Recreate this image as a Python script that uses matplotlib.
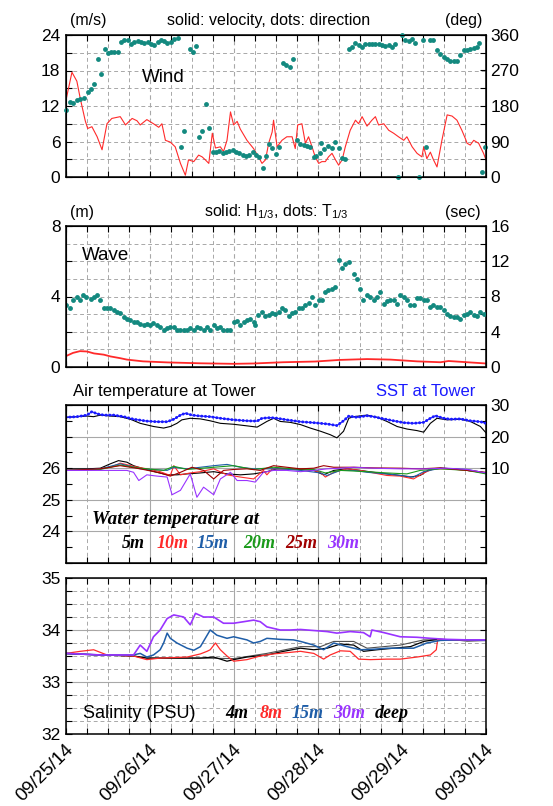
import matplotlib
matplotlib.use("Agg")
import matplotlib.pyplot as plt
from matplotlib.ticker import MultipleLocator, FuncFormatter
from matplotlib.transforms import ScaledTranslation

plt.rcParams['font.family'] = ['Liberation Sans', 'DejaVu Sans']
plt.rcParams['mathtext.fontset'] = 'custom'
plt.rcParams['mathtext.rm'] = 'Liberation Sans'
plt.rcParams['mathtext.default'] = 'regular'

# time is in hours from 09/25/14 00:00
day_labels = ["09/25/14", "09/26/14", "09/27/14", "09/28/14", "09/29/14", "09/30/14"]

# --- wind speed (m/s) ---
wind_spd_hours = [
    0, 1.7, 3.1, 4.1, 5.5, 6.2, 7.4, 8.9, 10.3, 11.7,
    13.1, 15.5, 17.0, 18.9, 20.3, 21.2, 23.1, 25.0, 26.5, 27.4,
    28.4, 29.8, 31.2, 32.7, 34.1, 35.0, 36.5, 37.9, 38.9, 39.8,
    40.8, 41.8, 42.7, 44.1, 45.0, 46.0, 47.0, 47.9, 48.9, 49.8,
    51.7, 53.6, 55.0, 56.0, 57.0, 57.9, 58.9, 59.3, 60.3, 61.7,
    63.1, 64.6, 65.5, 66.2, 67.4, 68.4, 69.3, 70.3, 71.2, 72.2,
    73.1, 74.1, 75.0, 76.0, 77.0, 77.9, 78.9, 79.8, 81.2, 82.7,
    83.6, 84.6, 86.0, 87.4, 88.4, 89.3, 90.8, 92.2, 93.6, 95.0,
    96.5, 97.4, 98.9, 100.3, 101.7, 102.2, 103.1, 104.1, 105.0, 106.0,
    107.4, 108.9, 110.3, 111.7, 113.1, 114.1, 114.6, 115.5, 116.5, 117.9,
    119.3, 120]
wind_spd = [
    13.0, 17.7, 16.2, 13.2, 9.5, 8.2, 8.5, 6.8, 4.6, 9.0,
    9.9, 10.2, 8.8, 9.9, 9.5, 8.8, 9.7, 9.0, 8.4, 9.0,
    6.2, 5.9, 5.1, 2.3, 0.3, 2.9, 2.6, 3.7, 3.4, 2.9,
    2.3, 7.4, 4.9, 5.1, 4.3, 6.2, 11.0, 8.8, 9.4, 8.1,
    6.2, 4.8, 3.4, 2.3, 2.9, 5.7, 7.6, 9.6, 5.1, 6.2,
    6.8, 6.8, 4.8, 8.8, 9.0, 5.7, 6.8, 5.1, 3.4, 2.3,
    2.6, 2.6, 3.4, 4.0, 2.9, 2.0, 2.9, 5.1, 7.9, 9.6,
    9.0, 10.2, 8.6, 9.6, 10.2, 8.8, 9.0, 7.9, 7.4, 6.8,
    6.2, 6.8, 5.1, 4.0, 3.4, 5.1, 3.1, 4.2, 2.9, 1.7,
    6.2, 10.5, 10.3, 9.6, 7.9, 6.5, 5.7, 5.4, 6.2, 5.7,
    4.0, 2.9]

# --- wind direction (deg) ---
wind_dir_hours = [
    0.0, 1.0, 2.0, 3.0, 4.1, 5.0, 6.2, 7.1, 8.1, 9.0,
    10.0, 11.0, 11.9, 12.9, 13.8, 14.8, 15.7, 16.7, 17.6, 18.6,
    19.5, 20.5, 21.4, 22.4, 23.3, 24.3, 25.2, 26.2, 27.1, 28.1,
    29.0, 30.0, 31.0, 31.9, 32.9, 33.8, 35.3, 36.3, 37.2, 38.1,
    39.0, 40.0, 41.0, 41.9, 42.9, 43.8, 44.8, 45.7, 46.7, 47.6,
    48.6, 49.5, 50.5, 51.4, 52.4, 53.3, 54.3, 55.2, 56.2, 57.1,
    58.1, 59.0, 60.0, 61.0, 62.0, 63.0, 63.9, 64.9, 66.0, 67.0,
    67.9, 68.9, 69.8, 70.8, 71.5, 72.5, 73.0, 73.8, 75.0, 76.0,
    77.0, 77.9, 78.9, 79.8, 80.8, 81.7, 82.7, 83.6, 84.6, 85.5,
    86.5, 87.4, 88.4, 89.3, 90.3, 91.2, 92.2, 93.1, 94.1, 95.0,
    96.0, 97.0, 97.9, 98.9, 99.8, 100.8, 102.0, 103.0, 103.9, 104.9,
    106.0, 107.0, 107.9, 108.9, 109.8, 110.8, 111.7, 112.7, 113.6, 114.6,
    115.5, 116.5, 117.4, 118.1, 118.9, 119.8]
wind_dir = [
    169, 190, 188, 195, 199, 201, 216, 222, 236, 298,
    260, 324, 314, 316, 317, 318, 342, 347, 348, 338,
    342, 345, 342, 340, 342, 338, 334, 342, 348, 345,
    340, 342, 351, 353, 77, 116, 325, 317, 331, 102,
    116, 186, 123, 64, 64, 66, 62, 64, 67, 68,
    64, 61, 57, 52, 56, 63, 56, 50, 24, 52,
    83, 73, 58, 77, 289, 283, 279, 298, 95, 83,
    81, 79, 75, 50, 52, 62, 87, 70, 79, 73,
    89, 73, 47, 45, 325, 330, 340, 335, 330, 337,
    338, 337, 338, 337, 335, 332, 335, 330, 336, 0,
    360, 348, 346, 350, 340, 0, 348, 75, 348, 348,
    323, 311, 303, 298, 295, 293, 293, 309, 323, 323,
    325, 327, 330, 340, 13, 77]

# --- significant wave height (m) ---
wave_h_hours = [0, 2, 4, 6, 8, 10.8, 12.7, 15.5, 17.4, 22, 29, 38.4, 47.9,
                53.6, 62, 71.2, 78, 86, 92.7, 100.3, 107, 109.3, 114.6, 120]
wave_h = [0.62, 0.8, 0.9, 0.88, 0.77, 0.7, 0.6, 0.5, 0.42, 0.32, 0.26, 0.21, 0.18,
          0.2, 0.27, 0.31, 0.4, 0.45, 0.42, 0.32, 0.27, 0.34, 0.27, 0.2]

# --- significant wave period (sec) ---
wave_t_hours = [
    0.0, 1.0, 2.0, 3.0, 3.9, 4.9, 5.8, 7.0, 7.9, 8.9,
    9.8, 10.8, 11.7, 12.7, 13.6, 14.6, 15.5, 16.5, 17.4, 18.4,
    19.3, 20.3, 21.2, 22.2, 23.1, 24.1, 25.0, 26.0, 27.0, 27.9,
    28.9, 29.8, 30.8, 31.7, 32.7, 33.6, 34.6, 35.5, 36.5, 37.4,
    38.4, 39.3, 40.3, 41.2, 42.2, 43.1, 44.1, 45.0, 46.0, 47.0,
    47.9, 48.9, 49.8, 50.8, 51.7, 52.7, 53.6, 54.1, 55.0, 56.0,
    57.0, 57.9, 58.9, 59.8, 60.8, 61.7, 62.7, 63.6, 64.6, 65.5,
    66.5, 67.4, 68.4, 69.3, 70.3, 71.2, 72.2, 73.1, 74.1, 75.0,
    76.0, 77.0, 77.9, 78.9, 79.8, 80.8, 82.2, 83.1, 84.1, 85.0,
    86.0, 87.0, 87.9, 88.9, 89.8, 90.8, 91.7, 92.7, 93.6, 94.6,
    95.5, 96.5, 97.4, 98.4, 99.3, 100.3, 101.2, 102.2, 103.1, 104.1,
    105.0, 106.0, 107.0, 107.9, 108.9, 109.8, 110.8, 111.7, 112.7, 113.6,
    114.6, 115.5, 116.5, 117.4, 118.4, 119.3]
wave_t = [
    7.0, 6.75, 7.6, 8.0, 7.6, 8.15, 8.0, 7.7, 7.9, 8.15,
    7.6, 6.75, 6.75, 6.65, 6.5, 6.25, 6.1, 5.7, 5.5, 5.3,
    5.1, 5.05, 4.9, 4.75, 4.9, 4.75, 5.0, 4.75, 4.55, 4.2,
    4.4, 4.55, 4.55, 4.25, 4.2, 4.25, 4.2, 4.4, 4.25, 4.5,
    4.4, 4.2, 4.55, 4.25, 4.75, 4.4, 4.5, 4.2, 4.25, 4.2,
    5.1, 5.25, 4.75, 5.1, 5.3, 5.5, 5.1, 4.75, 5.9, 6.25,
    5.8, 5.9, 6.1, 6.0, 6.25, 6.75, 6.45, 5.8, 6.15, 6.25,
    6.65, 6.75, 7.0, 7.3, 8.0, 7.0, 7.6, 7.6, 8.5, 8.7,
    8.9, 9.1, 12.1, 11.2, 11.65, 11.9, 10.6, 10.0, 8.9, 7.6,
    8.15, 8.0, 7.6, 7.9, 8.5, 7.2, 7.5, 7.6, 7.65, 7.2,
    8.15, 7.9, 7.6, 7.0, 7.0, 7.8, 7.8, 7.65, 7.6, 6.8,
    7.0, 6.8, 6.8, 6.45, 6.0, 5.8, 5.7, 5.7, 5.5, 5.9,
    6.0, 6.25, 5.9, 5.8, 6.25, 6.0]

# --- SST and air temperature at tower (deg C, right axis) ---
sst_hours = [0, 3.1, 6, 7.4, 8.9, 10.8, 13.6, 16.5, 19.3, 23.1, 26, 28.9, 30.8,
             32.7, 34.1, 36, 38.4, 41.2, 44.1, 47.9, 51.7, 54.6, 56, 58.4, 60.3,
             63.1, 67, 70.8, 74.6, 77.4, 79.3, 80.8, 83.1, 86, 87.9, 90.8, 93.6,
             96.5, 99.3, 102.2, 104.1, 105.5, 107.9, 109.8, 112.7, 115.5, 118.4, 120]
sst = [26.1, 26.3, 26.8, 27.9, 27.2, 26.8, 26.8, 26.3, 25.5, 24.9, 24.7, 24.7, 25.5,
       26.8, 27.4, 26.8, 26.5, 26.3, 25.8, 25.3, 25.0, 24.9, 25.8, 26.0, 25.8,
       25.3, 24.7, 24.4, 24.0, 23.5, 25.0, 26.5, 26.1, 26.6, 26.3, 25.6, 25.0,
       24.4, 24.2, 24.5, 25.8, 26.6, 25.8, 25.5, 25.6, 25.0, 24.7, 24.2]
air_hours = [0, 6, 7.9, 9.8, 12.7, 15.5, 18.4, 21.2, 25, 27.9, 29.8, 31.7, 33.1,
             35.5, 38.4, 41.2, 44.1, 47.9, 51.7, 54.6, 57.4, 59.3, 61.2, 64.1, 67,
             69.8, 72.7, 75.5, 77.4, 79.3, 80.8, 82.2, 86, 88.9, 91.7, 94.6, 97.4,
             100.3, 102.2, 104.1, 106, 108.9, 112.7, 115.5, 118.4, 120]
air = [26.1, 26.5, 26.3, 26.8, 26.5, 26.3, 25.5, 24.2, 23.2, 22.7, 23.2, 24.2, 25.3,
       25.8, 25.6, 25.0, 24.2, 23.9, 23.4, 23.0, 24.8, 25.8, 24.8, 24.5, 23.8,
       22.7, 21.7, 20.6, 19.6, 21.7, 25.8, 26.3, 26.8, 26.1, 24.8, 23.2, 22.4,
       21.9, 21.4, 24.2, 25.8, 25.3, 25.5, 24.8, 23.2, 21.2]

# --- water temperature (deg C, left axis) ---
wt5_hours = [0, 6, 9.8, 12.7, 15.0, 17.4, 19.3, 22.2, 26, 28.9, 31.7, 34.6, 38.4,
             42.2, 46, 49.8, 53.6, 57.4, 60.3, 63.1, 67, 70.8, 73.6, 76.5, 80.3,
             84.1, 87.9, 91.7, 95.5, 98.4, 101.2, 104.1, 107, 110.8, 114.6, 120]
wt5 = [25.98, 25.98, 26.0, 26.14, 26.24, 26.19, 26.08, 25.98, 25.87, 25.79, 25.79,
       25.82, 25.85, 25.89, 25.82, 25.79, 25.82, 25.89, 25.98, 25.98, 25.96, 25.93,
       25.79, 25.93, 25.98, 25.93, 25.87, 25.82, 25.77, 25.72, 25.77, 25.98, 26.0,
       25.98, 25.93, 25.85]
wt10_hours = [0, 6, 12.7, 15.5, 19.3, 23.1, 26.9, 29.8, 30.8, 32.7, 35.5, 38.4, 42.2,
              46, 49.8, 53.6, 56.4, 57.4, 58.9, 62.2, 65, 68.9, 72.7, 74.1, 76.5,
              80.3, 84.1, 87.9, 91.7, 95.5, 99.3, 102.2, 105, 109, 114.6, 120]
wt10 = [25.93, 25.93, 26.03, 26.16, 26.06, 25.98, 25.89, 25.77, 26.08, 25.79, 25.85,
        25.89, 25.98, 25.79, 25.72, 25.66, 25.93, 25.79, 25.98, 25.98, 25.98, 25.98,
        25.87, 25.72, 25.87, 25.98, 25.93, 25.85, 25.77, 25.75, 25.66, 25.85, 25.98,
        25.98, 25.93, 25.85]
wt15_hours = [0, 9.8, 15.5, 21.2, 28.9, 30.8, 34.6, 42.2, 46, 49.8, 53.6, 57.4, 61.2,
              67, 72.7, 74.6, 78.4, 82.2, 86, 91.7, 95.5, 99.3, 102.2, 107, 114.6, 120]
wt15 = [25.93, 25.98, 26.14, 25.98, 25.93, 26.03, 25.98, 26.08, 26.12, 26.03, 25.98,
        25.98, 25.98, 25.93, 25.85, 25.77, 25.93, 25.93, 25.87, 25.82, 25.77, 25.72,
        25.89, 26.0, 25.96, 25.85]
wt20_hours = [0, 9.8, 15.5, 21.2, 27.9, 30.8, 34.6, 42.2, 47.9, 53.6, 59.3, 65, 70.8,
              74.1, 78.4, 86, 91.7, 97.4, 101.2, 107, 114.6, 120]
wt20 = [25.93, 25.96, 26.1, 26.0, 25.93, 26.06, 25.96, 26.03, 26.08, 25.96, 26.03,
        25.98, 25.96, 25.85, 25.93, 25.89, 25.85, 25.82, 25.93, 25.98, 25.93, 25.82]
wt25_hours = [0, 9.8, 15.5, 21.2, 26.9, 29.8, 32.7, 36, 39.3, 42.2, 45, 47.9, 51.7,
              55.5, 59.3, 63.1, 67, 70.8, 73.6, 76.5, 82.2, 87.9, 95.5, 101.2, 107,
              114.6, 120]
wt25 = [25.93, 25.98, 26.08, 25.98, 25.85, 25.75, 25.87, 26.03, 25.93, 25.66, 25.93,
        25.96, 25.98, 25.93, 26.08, 26.03, 25.98, 26.0, 26.08, 26.03, 26.03, 26.01,
        26.0, 25.98, 26.01, 25.93, 25.87]
wt30_hours = [0, 17.4, 19.3, 20.8, 23.1, 26, 28.9, 30.3, 32.7, 35.5, 37.4, 39.3, 42.2,
              44.1, 47, 48.9, 51.7, 54.1, 56.4, 59.3, 63.1, 67, 70.8, 74.6, 78.4, 82.2,
              87.9, 95.5, 103.1, 108.9, 114.6, 120]
wt30 = [25.93, 25.93, 25.87, 25.61, 25.79, 25.75, 25.72, 25.16, 25.3, 25.82, 25.08,
        25.4, 25.16, 25.66, 25.87, 25.61, 25.61, 25.56, 25.87, 25.93, 25.93, 25.89,
        25.93, 25.98, 26.0, 26.03, 26.0, 25.98, 25.98, 26.0, 25.96, 25.85]

# --- salinity (PSU) ---
s4_hours = [0, 9.8, 19.3, 23.1, 28.9, 38.4, 42.2, 46, 47.9, 51.7, 57.4, 62.2, 67,
            70.8, 74.6, 78.4, 82.2, 85, 88.9, 93.6, 98.4, 102.2, 106, 110.8, 114.6, 120]
s4 = [33.55, 33.52, 33.50, 33.46, 33.46, 33.46, 33.48, 33.40, 33.43, 33.48, 33.52,
      33.59, 33.65, 33.62, 33.65, 33.73, 33.71, 33.59, 33.62, 33.65, 33.68, 33.78,
      33.82, 33.81, 33.79, 33.80]
s8_hours = [0, 4.1, 7.9, 11.7, 19.3, 23.1, 26.9, 34.6, 38.4, 40.3, 41.2, 42.7, 44.1,
            46, 47.9, 51.7, 55.5, 59.3, 64.1, 67, 70.8, 73.6, 75.5, 78.4, 81.2, 83.6,
            87, 91.7, 95.5, 100.3, 104.1, 105.8, 106.2, 110.8, 114.6, 120]
s8 = [33.55, 33.59, 33.62, 33.52, 33.50, 33.43, 33.46, 33.48, 33.54, 33.59, 33.62,
      33.75, 33.62, 33.50, 33.40, 33.43, 33.50, 33.54, 33.57, 33.59, 33.55, 33.44,
      33.52, 33.60, 33.59, 33.44, 33.43, 33.44, 33.44, 33.48, 33.52, 33.62, 33.82,
      33.81, 33.80, 33.80]
s15_hours = [0, 9.8, 19.3, 21.2, 23.1, 25, 26.9, 27.9, 28.9, 29.8, 31.7, 34.6, 36.5,
             38.4, 41.2, 43.1, 46, 47.9, 51.7, 53.6, 55.5, 57.4, 61.2, 65, 67, 70.8,
             73.6, 76.5, 80.3, 84.1, 88, 91.7, 95.5, 99.3, 103.1, 107, 112.7, 120]
s15 = [33.55, 33.52, 33.52, 33.55, 33.48, 33.52, 33.62, 33.75, 33.94, 33.84, 33.75,
       33.65, 33.61, 33.68, 34.0, 33.90, 33.84, 33.87, 33.81, 33.75, 33.78, 33.84,
       33.82, 33.81, 33.78, 33.71, 33.62, 33.75, 33.68, 33.62, 33.63, 33.65, 33.65,
       33.65, 33.75, 33.80, 33.81, 33.80]
s30_hours = [0, 9.8, 19.3, 21.2, 23.1, 25, 26.9, 28.9, 30.8, 33.6, 35.5, 37, 39.3,
             42.2, 45, 47.9, 50.8, 53.6, 55.5, 57.4, 61.2, 64.1, 67, 70.8, 74.6, 77.4,
             81.2, 85, 86.9, 87.4, 90.8, 95.5, 100.3, 104.1, 108.9, 114.6, 120]
s30 = [33.55, 33.52, 33.52, 33.71, 33.59, 33.87, 34.0, 34.22, 34.29, 34.25, 34.10,
       34.32, 34.25, 34.25, 34.13, 34.13, 34.16, 34.19, 34.16, 34.06, 34.0, 34.0,
       34.01, 33.99, 33.97, 33.94, 33.97, 33.95, 33.87, 34.0, 33.95, 33.87, 33.86,
       33.84, 33.82, 33.81, 33.81]
sdeep_hours = [0, 19.3, 23.1, 38.4, 47.9, 57.4, 67, 72.7, 76.5, 82.2, 86, 95.5, 102.2, 120]
sdeep = [33.54, 33.50, 33.46, 33.46, 33.45, 33.55, 33.68, 33.68, 33.78, 33.78, 33.65,
         33.71, 33.81, 33.81]

# colours
TEAL = "#13897f"
RED = "#ff2a2a"
BLUE = "#1a1aff"
C15 = "#1f5ea8"
C20 = "#1a9a1a"
C25 = "#a00000"
C30 = "#9933ff"
GRID_C = "#a8a8a8"
DASH = (0, (4, 3))
TICK_FS = 12.5

FW, FH = 553.0, 806.0
fig = plt.figure(figsize=(5.53, 8.06), dpi=100)


def panel(top, bottom):
    return fig.add_axes([66 / FW, 1 - bottom / FH, 420 / FW, (bottom - top) / FH])


def px(x, y):
    return x / FW, 1 - y / FH


def time_axis(ax, solid_days):
    ax.set_xlim(0, 120)
    ax.xaxis.set_major_locator(MultipleLocator(24))
    ax.xaxis.set_minor_locator(MultipleLocator(6))
    ax.tick_params(which="both", direction="in", length=4, width=0.8,
                   top=True, right=False, labelsize=TICK_FS, pad=4)
    ax.tick_params(axis="x", labelbottom=False)
    ax.grid(which="minor", axis="x", color=GRID_C, lw=0.7, ls=DASH)
    ax.grid(which="major", axis="x", color=GRID_C, lw=0.8,
            ls="-" if solid_days else DASH)
    for s in ax.spines.values():
        s.set_linewidth(1.1)


def right_axis(ax):
    axr = ax.twinx()
    axr.tick_params(which="both", direction="in", length=4, width=0.8,
                    labelsize=TICK_FS, pad=3)
    return axr


# ---------------- Wind ----------------
ax1 = panel(35, 177)
time_axis(ax1, False)
ax1.set_ylim(0, 24)
ax1.yaxis.set_major_locator(MultipleLocator(6))
ax1.yaxis.set_minor_locator(MultipleLocator(3))
ax1.grid(which="both", axis="y", color=GRID_C, lw=0.7, ls=DASH)
ax1.plot(wind_spd_hours, wind_spd, color=RED, lw=0.8)
ax1r = right_axis(ax1)
ax1r.set_ylim(0, 360)
ax1r.yaxis.set_major_locator(MultipleLocator(90))
ax1r.yaxis.set_minor_locator(MultipleLocator(45))
ax1r.plot(wind_dir_hours, wind_dir, "o", color=TEAL, ms=3.5, mec="none", clip_on=False)
fig.text(*px(142, 77), "Wind", fontsize=13.5, va="center")
fig.text(*px(88, 20), "(m/s)", fontsize=11.5, ha="center", va="center")
fig.text(*px(269, 20), "solid: velocity, dots: direction", fontsize=11.5, ha="center", va="center")
fig.text(*px(464, 20), "(deg)", fontsize=11.5, ha="center", va="center")

# ---------------- Wave ----------------
ax2 = panel(226, 367)
time_axis(ax2, False)
ax2.set_ylim(0, 8)
ax2.yaxis.set_major_locator(MultipleLocator(2))
ax2.yaxis.set_major_formatter(FuncFormatter(lambda v, p: f"{v:.0f}" if v % 4 == 0 else ""))
ax2.yaxis.set_minor_locator(MultipleLocator(1))
ax2.tick_params(axis="y", which="minor", length=0)
ax2.grid(which="both", axis="y", color=GRID_C, lw=0.7, ls=DASH)
ax2.plot(wave_h_hours, wave_h, color=RED, lw=1.3)
ax2r = right_axis(ax2)
ax2r.set_ylim(0, 16)
ax2r.yaxis.set_major_locator(MultipleLocator(4))
ax2r.yaxis.set_minor_locator(MultipleLocator(2))
ax2r.plot(wave_t_hours, wave_t, "o", color=TEAL, ms=3.5, mec="none")
fig.text(*px(82, 255), "Wave", fontsize=13.5, va="center")
fig.text(*px(82, 212), "(m)", fontsize=11.5, ha="center", va="center")
fig.text(*px(276, 212), "solid: H$_{1/3}$, dots: T$_{1/3}$", fontsize=11.5, ha="center", va="center")
fig.text(*px(463, 212), "(sec)", fontsize=11.5, ha="center", va="center")

# ---------------- Temperature ----------------
ax3 = panel(405, 563)
time_axis(ax3, True)
ax3.set_ylim(23, 28)
ax3.yaxis.set_major_locator(MultipleLocator(1))
ax3.yaxis.set_major_formatter(FuncFormatter(lambda v, p: f"{v:.0f}" if 23.5 < v < 26.5 else ""))
ax3.yaxis.set_minor_locator(MultipleLocator(0.5))
ax3.grid(which="major", axis="y", color=GRID_C, lw=0.8, ls="-")
for hrs, vals, col in [(wt5_hours, wt5, "black"), (wt10_hours, wt10, RED),
                       (wt15_hours, wt15, C15), (wt20_hours, wt20, C20),
                       (wt25_hours, wt25, C25), (wt30_hours, wt30, C30)]:
    ax3.plot(hrs, vals, color=col, lw=0.8)
ax3r = right_axis(ax3)
ax3r.set_ylim(-20, 30)
ax3r.yaxis.set_major_locator(MultipleLocator(10))
ax3r.yaxis.set_major_formatter(FuncFormatter(lambda v, p: f"{v:.0f}" if v >= 10 else ""))
ax3r.yaxis.set_minor_locator(MultipleLocator(5))
ax3r.plot(air_hours, air, color="black", lw=0.8)
ax3r.plot(sst_hours, sst, color=BLUE, lw=0.8)
ax3r.plot(sst_hours, sst, color=BLUE, lw=2.1, ls=(0, (0.1, 1.2)), dash_capstyle="round")
fig.text(*px(73, 391), "Air temperature at Tower", fontsize=12, va="center")
fig.text(*px(475, 391), "SST at Tower", fontsize=12, color=BLUE, ha="right", va="center")
SERIF = dict(family=["Liberation Serif", "DejaVu Serif"], style="italic", weight="bold", fontsize=13)
fig.text(*px(92, 519), "Water temperature at", va="center",
         **{**SERIF, "fontsize": 13.8})
for x, lab, col in [(122, "5m", "black"), (157, "10m", RED), (197, "15m", C15),
                    (243, "20m", C20), (285, "25m", C25), (327, "30m", C30)]:
    fig.text(*px(x, 544), lab, color=col, va="center", **SERIF)

# ---------------- Salinity ----------------
ax4 = panel(578, 734)
time_axis(ax4, True)
ax4.tick_params(right=True)
ax4.set_ylim(32, 35)
ax4.yaxis.set_major_locator(MultipleLocator(1))
ax4.yaxis.set_minor_locator(MultipleLocator(0.25))
ax4.grid(which="major", axis="y", color=GRID_C, lw=0.8, ls="-")
ax4.grid(which="minor", axis="y", color=GRID_C, lw=0.7, ls=DASH)
ax4.plot(sdeep_hours, sdeep, color="#505050", lw=0.8)
ax4.plot(s4_hours, s4, color="black", lw=0.9)
ax4.plot(s8_hours, s8, color=RED, lw=0.9)
ax4.plot(s15_hours, s15, color=C15, lw=1.1)
ax4.plot(s30_hours, s30, color=C30, lw=1.2)
ax4.set_xticks(range(0, 121, 24))
ax4.set_xticklabels(day_labels)
ax4.tick_params(axis="x", labelbottom=True, labelsize=13.5, pad=9.5)
shift = ScaledTranslation(5 / 100, 0, fig.dpi_scale_trans)
for lab in ax4.get_xticklabels():
    lab.set_rotation(45)
    lab.set_ha("right")
    lab.set_va("center")
    lab.set_rotation_mode("anchor")
    lab.set_transform(lab.get_transform() + shift)
fig.text(*px(83, 714), "Salinity (PSU)", fontsize=13, va="center")
for x, lab, col in [(225, "4m", "black"), (260, "8m", RED), (292, "15m", C15),
                    (333, "30m", C30), (375, "deep", "black")]:
    fig.text(*px(x, 714), lab, color=col, va="center", **SERIF)

fig.savefig("out.png", dpi=100)
